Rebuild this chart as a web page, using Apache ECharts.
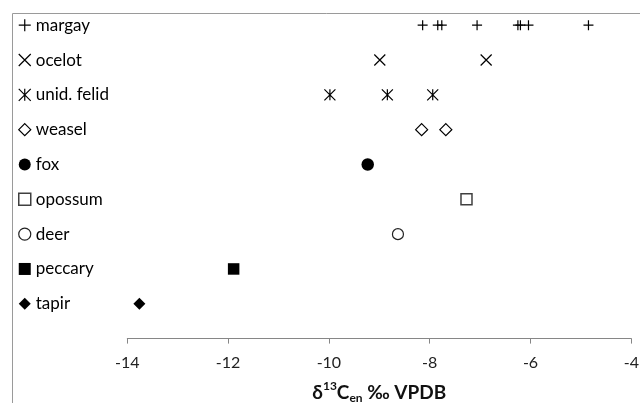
<!DOCTYPE html>
<html><head><meta charset="utf-8">
<script src="https://cdn.jsdelivr.net/npm/echarts@6/dist/echarts.min.js"></script>
<style>html,body{margin:0;padding:0;background:#fff}#c{width:640px;height:403px}</style>
</head><body><div id="c"></div>
<script>
// categories, top to bottom
const species = ['margay','ocelot','unid. felid','weasel','fox','opossum','deer','peccary','tapir'];
// δ13C values per species (‰ VPDB)
const margay = [-8.14, -7.84, -7.76, -7.06, -6.25, -6.20, -6.04, -4.85];
const ocelot = [-8.99, -6.88];
const unidFelid = [-9.98, -8.84, -7.94];
const weasel = [-8.16, -7.68];
const fox = [-9.23];
const opossum = [-7.27];
const deer = [-8.63];
const peccary = [-11.89];
const tapir = [-13.76];
const values = [margay, ocelot, unidFelid, weasel, fox, opossum, deer, peccary, tapir];
const xTicks = [-14, -12, -10, -8, -6, -4];

const plusPath = 'path://M5,0L5,10M0,5L10,5';
const crossPath = 'path://M0,0L10,10M10,0L0,10';
const starPath = 'path://M0,0L10,10M10,0L0,10M5,0L5,10';
const styles = [
  {symbol: plusPath, size: 10, color: 'transparent', border: '#000', bw: 1.2},
  {symbol: crossPath, size: 11, color: 'transparent', border: '#000', bw: 1.2},
  {symbol: starPath, size: 11, color: 'transparent', border: '#000', bw: 1.2},
  {symbol: 'diamond', size: 12, color: '#fff', border: '#000', bw: 1.2},
  {symbol: 'circle', size: 12.5, color: '#000', border: '#000', bw: 0},
  {symbol: 'rect', size: 11, color: '#fff', border: '#404040', bw: 1.5},
  {symbol: 'circle', size: 11, color: '#fff', border: '#222', bw: 1.2},
  {symbol: 'rect', size: 11.5, color: '#000', border: '#000', bw: 0},
  {symbol: 'diamond', size: 12, color: '#000', border: '#000', bw: 0}
];

const n = species.length;
const series = species.map((name, i) => ({
  name: name,
  type: 'scatter',
  symbol: styles[i].symbol,
  symbolSize: styles[i].size,
  itemStyle: {color: styles[i].color, borderColor: styles[i].border, borderWidth: styles[i].bw, opacity: 1},
  emphasis: {disabled: true},
  data: values[i].map(v => [v, n - i])
}));

const legendData = species.map((name, i) => ({
  name: name,
  itemStyle: {borderWidth: styles[i].bw}
}));

const chart = echarts.init(document.getElementById('c'), null, {renderer: 'canvas'});
const rowPx = (403 - 64.4 - 13) / 9.35;
chart.setOption({
  animation: false,
  backgroundColor: '#fff',
  grid: {left: 127.3, right: 8.7, top: 13, bottom: 64.4, containLabel: false, outerBoundsMode: 'none'},
  xAxis: {
    type: 'value', min: -14, max: -4, interval: 2,
    axisLine: {show: true, lineStyle: {color: '#868686', width: 1}},
    axisTick: {show: true, inside: false, length: 5, lineStyle: {color: '#868686'}},
    splitLine: {show: false},
    axisLabel: {color: '#222', fontFamily: 'Lato', fontSize: 16, margin: 16,
      customValues: xTicks},
    name: '{a|δ}{sup|13}{a|C}{sub|en}{a| ‰ VPDB}',
    nameLocation: 'middle', nameGap: 42,
    nameTextStyle: {
      rich: {
        a: {fontFamily: 'Lato', fontWeight: 'bold', fontSize: 19, color: '#111', lineHeight: 24},
        sup: {fontFamily: 'Lato', fontWeight: 'bold', fontSize: 12, color: '#111', lineHeight: 24, verticalAlign: 'top', padding: [0,0,6,0]},
        sub: {fontFamily: 'Lato', fontWeight: 'bold', fontSize: 12, color: '#111', lineHeight: 24, verticalAlign: 'bottom', padding: [8,0,0,0]}
      }
    }
  },
  yAxis: {
    type: 'value', min: 0, max: 9.35, show: false
  },
  legend: {
    orient: 'vertical', left: 13, top: 25.2 - 15,
    itemWidth: 12, itemHeight: 12, itemGap: rowPx - 20,
    data: legendData,
    textStyle: {fontFamily: 'Lato', fontSize: 17, color: '#000', lineHeight: 20, padding: [0,0,0,0]},
    selectedMode: false
  },
  graphic: [
    {type: 'line', shape: {x1: 12.5, y1: 13.5, x2: 640, y2: 13.5}, style: {stroke: '#9a9a9a', lineWidth: 1}, silent: true},
    {type: 'line', shape: {x1: 12.5, y1: 13.5, x2: 12.5, y2: 403}, style: {stroke: '#9a9a9a', lineWidth: 1}, silent: true}
  ],
  series: series
});
</script></body></html>
